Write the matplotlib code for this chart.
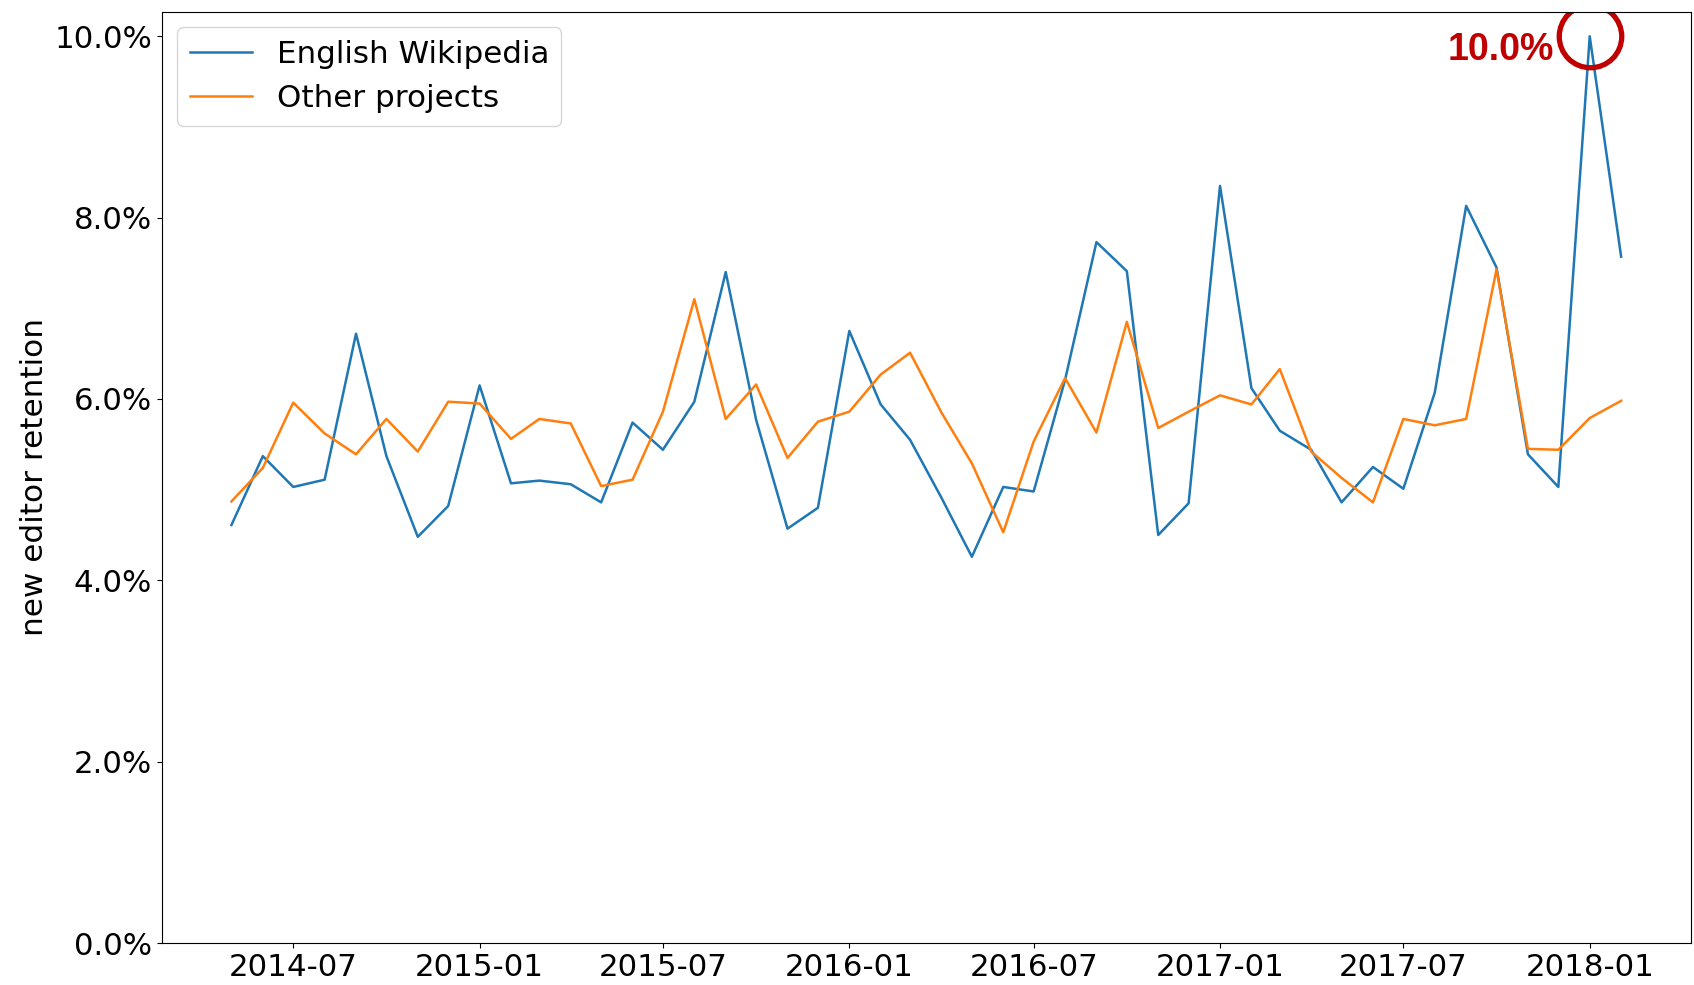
import matplotlib
matplotlib.use("Agg")
import matplotlib.pyplot as plt
import matplotlib.ticker as mtick
from matplotlib import font_manager
import pandas as pd

# monthly new editor retention, 2014-05 .. 2018-02
months = pd.date_range("2014-05-01", "2018-02-01", freq="MS")

enwiki = [4.61, 5.37, 5.03, 5.11, 6.72, 5.37, 4.48, 4.82, 6.15, 5.07,
          5.10, 5.06, 4.86, 5.74, 5.44, 5.97, 7.40, 5.77, 4.57, 4.80,
          6.75, 5.94, 5.55, 4.91, 4.26, 5.03, 4.98, 6.21, 7.73, 7.41,
          4.50, 4.85, 8.35, 6.12, 5.65, 5.44, 4.86, 5.25, 5.01, 6.07,
          8.13, 7.45, 5.39, 5.03, 10.0, 7.57]

other = [4.87, 5.24, 5.96, 5.62, 5.39, 5.78, 5.42, 5.97, 5.95, 5.56,
         5.78, 5.73, 5.04, 5.11, 5.86, 7.10, 5.78, 6.16, 5.35, 5.75,
         5.86, 6.27, 6.51, 5.85, 5.29, 4.53, 5.53, 6.23, 5.63, 6.85,
         5.68, 5.86, 6.04, 5.94, 6.33, 5.42, 5.13, 4.86, 5.78, 5.71,
         5.78, 7.43, 5.45, 5.44, 5.79, 5.98]

enwiki = [v / 100 for v in enwiki]
other = [v / 100 for v in other]

peak_idx = enwiki.index(max(enwiki))

# want the plain (not narrow) Liberation Sans Bold for the callout
bold_file = None
for f in font_manager.fontManager.ttflist:
    fn = f.fname.lower()
    if "liberationsans-bold." in fn:
        bold_file = f.fname
        break
if bold_file:
    bold = font_manager.FontProperties(fname=bold_file, size=27)
else:
    bold = font_manager.FontProperties(family="DejaVu Sans", weight="bold", size=24)

fig = plt.figure(figsize=(16.94, 9.85), dpi=100)
ax = fig.add_axes([0.0956, 0.0426, 0.9024, 0.9454])

ax.plot(months, enwiki, color="#1f77b4", lw=1.8, label="English Wikipedia")
ax.plot(months, other, color="#ff7f0e", lw=1.8, label="Other projects")

ax.set_ylim(0, 0.1027)
ax.yaxis.set_major_locator(mtick.MultipleLocator(0.02))
ax.yaxis.set_major_formatter(mtick.PercentFormatter(1.0, decimals=1))
ax.set_ylabel("new editor retention", fontsize=22.4)

xticks = pd.date_range("2014-07-01", "2018-01-01", freq="6MS")
ax.set_xticks(xticks)
ax.set_xticklabels([d.strftime("%Y-%m") for d in xticks])
ax.tick_params(labelsize=22.2)

ax.legend(loc="upper left", fontsize=22.3)

# highlight the peak
ax.plot([months[peak_idx]], [enwiki[peak_idx]], marker="o", ms=45,
        mfc="none", mec="#c00000", mew=3.8, ls="none")
ax.annotate("{:.1f}%".format(enwiki[peak_idx] * 100),
            xy=(months[peak_idx], enwiki[peak_idx]),
            xytext=(-26, -10), textcoords="offset points",
            ha="right", va="center", color="#c00000", fontproperties=bold)

fig.savefig("out.png", dpi=100)
